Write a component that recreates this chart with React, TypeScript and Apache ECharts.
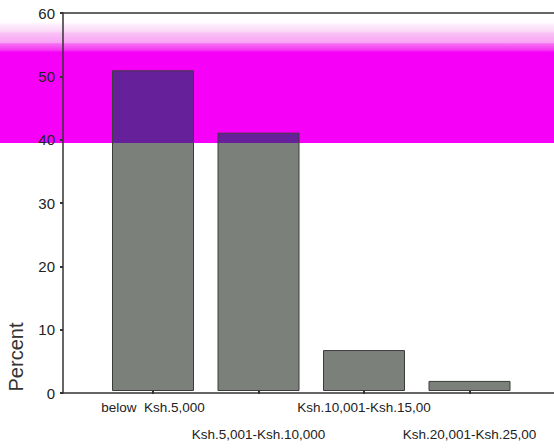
import React, { useEffect, useRef } from "react";
import * as echarts from "echarts";

const categories = [
  "below  Ksh.5,000",
  "Ksh.5,001-Ksh.10,000",
  "Ksh.10,001-Ksh.15,00",
  "Ksh.20,001-Ksh.25,00",
];
const percents = [50.9, 41.0, 6.5, 1.6];
const yAxisTitle = "Percent";

export default function App() {
  const ref = useRef<HTMLDivElement>(null);
  useEffect(() => {
    document.body.style.margin = "0";
    const chart = echarts.init(ref.current!, null, { renderer: "svg" });
    const font = "Liberation Sans";
    const axisColor = "#333";
    const bandBottom = 142.7 / 448;
    chart.setOption({
      animation: false,
      backgroundColor: "#ffffff",
      grid: [
        { left: 63, top: 13, width: 560, bottom: 55 },
        { left: 100.25, top: 13, width: 422, bottom: 55 },
      ],
      xAxis: [
        {
          gridIndex: 0,
          type: "value",
          min: 0,
          max: 1,
          position: "bottom",
          axisLine: { show: true, lineStyle: { color: axisColor, width: 1.5 } },
          axisTick: { show: false },
          axisLabel: { show: false },
          splitLine: { show: false },
        },
        {
          gridIndex: 0,
          type: "value",
          min: 0,
          max: 1,
          position: "top",
          axisLine: { show: true, lineStyle: { color: axisColor, width: 1.5 } },
          axisTick: { show: false },
          axisLabel: { show: false },
          splitLine: { show: false },
        },
        {
          gridIndex: 1,
          type: "category",
          data: categories,
          axisLine: { show: false },
          axisTick: {
            show: true,
            alignWithLabel: true,
            length: 3,
            lineStyle: { color: axisColor, width: 2 },
          },
          axisLabel: {
            interval: 0,
            margin: 3,
            fontFamily: font,
            fontSize: 13.5,
            color: "#222",
            lineHeight: 27,
            formatter: (v: string, i: number) => (i % 2 ? "\n" + v : v),
          },
        },
      ],
      yAxis: [
        {
          gridIndex: 0,
          type: "value",
          min: 0,
          max: 60,
          interval: 10,
          axisLine: { show: true, lineStyle: { color: axisColor, width: 1.5 } },
          axisTick: { show: true, length: 3, lineStyle: { color: axisColor, width: 2 } },
          axisLabel: { margin: 8, fontFamily: font, fontSize: 15, color: "#222" },
          splitLine: { show: false },
        },
        {
          gridIndex: 1,
          type: "value",
          min: 0,
          max: 60,
          show: false,
        },
      ],
      series: [
        {
          type: "bar",
          xAxisIndex: 2,
          yAxisIndex: 1,
          data: percents,
          barWidth: 82,
          itemStyle: {
            color: {
              type: "linear",
              global: true,
              x: 0,
              y: 0,
              x2: 0,
              y2: 448,
              colorStops: [
                { offset: 0, color: "#65209a" },
                { offset: bandBottom, color: "#65209a" },
                { offset: bandBottom, color: "#7b807b" },
                { offset: 1, color: "#7b807b" },
              ],
            },
            borderColor: "#3c3c3c",
            borderWidth: 1,
          },
        },
      ],
      graphic: [
        {
          type: "rect",
          z: -10,
          shape: { x: 0, y: 22, width: 554, height: 121 },
          style: {
            fill: {
              type: "linear",
              x: 0,
              y: 0,
              x2: 0,
              y2: 1,
              colorStops: [
                { offset: 0, color: "#ffffff" },
                { offset: 0.03, color: "#fdeafc" },
                { offset: 0.08, color: "#fbd6f8" },
                { offset: 0.09, color: "#fac2f6" },
                { offset: 0.17, color: "#f8a4f4" },
                { offset: 0.18, color: "#f670f2" },
                { offset: 0.23, color: "#f53af4" },
                { offset: 0.25, color: "#f700f8" },
                { offset: 1, color: "#f700f8" },
              ],
            },
          },
        },
        {
          type: "text",
          x: 16,
          y: 357,
          rotation: Math.PI / 2,
          style: {
            text: yAxisTitle,
            font: `20px "${font}"`,
            fill: "#333",
            align: "center",
            verticalAlign: "middle",
          },
        },
      ],
    });
    return () => chart.dispose();
  }, []);
  return (
    <div
      ref={ref}
      style={{ position: "fixed", left: 0, top: 0, width: 554, height: 448 }}
    />
  );
}
